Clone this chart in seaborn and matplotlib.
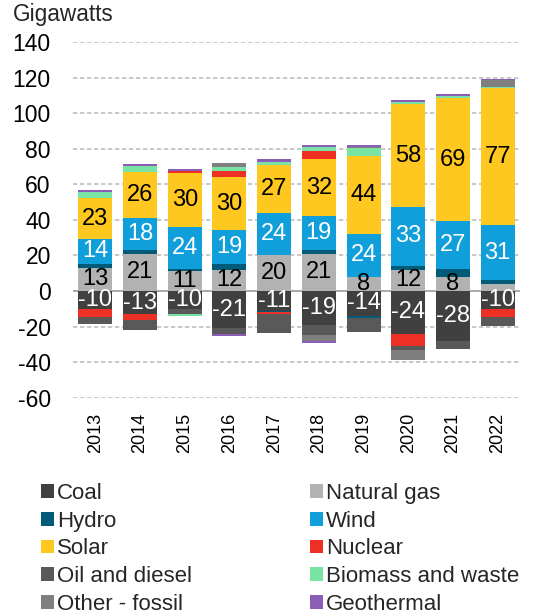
import numpy as np
import pandas as pd
import matplotlib
matplotlib.use('Agg')
import matplotlib.pyplot as plt
from matplotlib.patches import Patch
import seaborn as sns

# Capacity additions (positive) and retirements (negative), GW
years = ['2013', '2014', '2015', '2016', '2017', '2018', '2019', '2020', '2021', '2022']

coal_add = [0, 0, 0, 0, 0, 0, 0, 0, 0, 0]
gas_add = [13, 21, 11, 12, 20, 21, 8, 12, 8, 3.8]
hydro_add = [2.3, 2.3, 1.3, 3.2, 0, 2.3, 0, 2.3, 4.5, 2.3]
wind_add = [14, 18, 24, 19, 24, 19, 24, 33, 27, 31]
solar_add = [23, 26, 30, 30, 27, 32, 44, 58, 69, 77]
nuclear_add = [0, 0, 1.1, 3.4, 0, 4.5, 0, 0, 0, 0]
oil_add = [0, 0, 0, 0, 0, 0, 0, 0, 0, 0]
biomass_add = [3.2, 3.4, 0, 2.1, 1.9, 2.3, 4.5, 1.1, 1.1, 1.1]
other_add = [0, 0, 0, 2.4, 0, 0, 0.6, 0, 0, 3.4]
geo_add = [1.5, 1.0, 1.1, 0, 1.3, 1.1, 1.1, 1.0, 1.1, 1.1]

coal_ret = [-10, -13, -10, -21, -11, -19, -14, -24, -28, -10]
gas_ret = [0, 0, 0, 0, 0, 0, 0, 0, 0, 0]
hydro_ret = [0, 0, 0, 0, -1.1, 0, -1.1, 0, 0, 0]
wind_ret = [0, 0, 0, 0, 0, 0, 0, 0, 0, 0]
solar_ret = [0, 0, 0, 0, 0, 0, 0, 0, 0, 0]
nuclear_ret = [-4.5, -3.4, 0, 0, -1.1, 0, 0, -6.8, 0, -4.5]
oil_ret = [-4.3, -5.6, -3.2, -3.2, -10.3, -5.6, -7.9, -2.3, -4.5, -5.3]
biomass_ret = [0, 0, -1.1, 0, 0, 0, 0, 0, 0, 0]
other_ret = [0, 0, 0, 0, 0, -3.4, 0, -5.6, 0, 0]
geo_ret = [0, 0, 0, -1.3, 0, -1.1, 0, 0, 0, 0]

sources = ['Coal', 'Natural gas', 'Hydro', 'Wind', 'Solar', 'Nuclear',
           'Oil and diesel', 'Biomass and waste', 'Other - fossil', 'Geothermal']
colors = ['#404040', '#B2B2B2', '#005A78', '#109FDA', '#FFC820', '#EE3024',
          '#595959', '#78E3A2', '#7F7F7F', '#8C5DB6']

adds = [coal_add, gas_add, hydro_add, wind_add, solar_add, nuclear_add,
        oil_add, biomass_add, other_add, geo_add]
rets = [coal_ret, gas_ret, hydro_ret, wind_ret, solar_ret, nuclear_ret,
        oil_ret, biomass_ret, other_ret, geo_ret]

df_add = pd.DataFrame(np.array(adds).T, columns=sources, index=years)
df_ret = pd.DataFrame(np.array(rets).T, columns=sources, index=years)
cum_add = df_add.cumsum(axis=1)
cum_ret = df_ret.cumsum(axis=1)

sns.set_theme(style='white')
plt.rcParams['font.family'] = ['Liberation Sans', 'DejaVu Sans']
plt.rcParams['axes.unicode_minus'] = False

fig = plt.figure(figsize=(5.42, 6.14), dpi=100)
ax = fig.add_axes([0.1347, 0.3526, 0.8247, 0.5782])

# stacked bars: draw cumulative totals from the top layer down
for cum in [cum_add, cum_ret]:
    for src, col in reversed(list(zip(sources, colors))):
        sns.barplot(x=years, y=cum[src].values, color=col, width=0.76,
                    linewidth=0, saturation=1, errorbar=None, ax=ax, zorder=3)

# data labels
def put_labels(df, cum, src, color):
    for i, y in enumerate(years):
        v = df.loc[y, src]
        if abs(v) >= 6:
            mid = cum.loc[y, src] - v / 2
            ax.text(i, mid, f'{v:.0f}', ha='center', va='center',
                    fontsize=17, color=color, zorder=5)

put_labels(df_add, cum_add, 'Natural gas', 'black')
put_labels(df_add, cum_add, 'Wind', 'white')
put_labels(df_add, cum_add, 'Solar', 'black')
put_labels(df_ret, cum_ret, 'Coal', 'white')

ax.set_ylim(-60, 140)
ax.set_xlim(-0.5, 9.5)
ax.set_yticks(range(-60, 141, 20))
ax.yaxis.grid(True, color='#BFBFBF', linewidth=1.2, linestyle=(0, (2.6, 1.6)))
ax.xaxis.grid(False)
ax.set_axisbelow(True)
ax.axhline(0, color='#A6A6A6', linewidth=1.3, zorder=2)
for s in ax.spines.values():
    s.set_visible(False)
ax.set_xlabel('')
ax.set_ylabel('')
ax.tick_params(axis='y', length=0, pad=16, labelsize=16.5, labelcolor='black')
ax.tick_params(axis='x', length=0, pad=11, labelsize=13, labelcolor='black')
plt.setp(ax.get_xticklabels(), rotation=90)

fig.text(13 / 542, 1 - 21 / 614, 'Gigawatts', fontsize=16.3, ha='left', va='baseline')

# legend in two columns, row-wise order
h = [Patch(facecolor=c, edgecolor='none') for c in colors]
leg_kw = dict(frameon=False, fontsize=16, handlelength=0.58, handleheight=0.58,
              handletextpad=0.15, labelspacing=0.3, borderpad=0, borderaxespad=0,
              loc='upper left')
l1 = fig.legend(h[0::2], sources[0::2], bbox_to_anchor=(41 / 542, 1 - 483 / 614), **leg_kw)
l2 = fig.legend(h[1::2], sources[1::2], bbox_to_anchor=(310 / 542, 1 - 483 / 614), **leg_kw)

fig.savefig('out.png', dpi=100)
